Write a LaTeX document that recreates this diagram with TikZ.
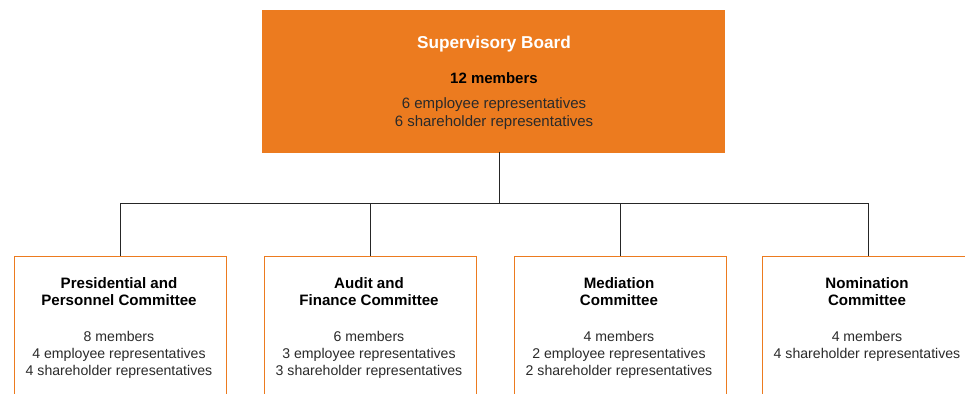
\documentclass[tikz,border=0pt]{standalone}
\usepackage{fontspec}
\setmainfont{Liberation Sans}
\definecolor{orng}{HTML}{EC7B1F}
\definecolor{txt}{HTML}{2A2A2A}
\begin{document}
\begin{tikzpicture}[x=1pt,y=-1pt,
  board/.style={fill=orng,minimum width=463pt,minimum height=143pt,anchor=north west,inner sep=0pt},
  cbox/.style={draw=orng,line width=1.3pt,fill=white,minimum width=212pt,minimum height=170pt,anchor=north west,inner sep=0pt},
  conn/.style={draw=black!85,line width=0.9pt},
  ttl/.style={anchor=base,inner sep=0pt,font=\fontsize{17.2}{20}\selectfont\bfseries,text=white},
  topb/.style={anchor=base,inner sep=0pt,font=\fontsize{15}{18}\selectfont\bfseries,text=black},
  topt/.style={anchor=base,inner sep=0pt,font=\fontsize{15}{18}\selectfont,text=txt},
  ctl/.style={anchor=base,inner sep=0pt,font=\fontsize{15.1}{17}\selectfont\bfseries,text=black},
  ctx/.style={anchor=base,inner sep=0pt,font=\fontsize{14.1}{17}\selectfont,text=txt}]
\clip (0,0) rectangle (965,393);
\fill[white] (0,0) rectangle (965,393);
% Supervisory board
\node[board] (sb) at (262,9.5) {};
\node[ttl] (sbt) at (494,49) {Supervisory Board};
\node[topb] (sbm) at (494,84) {12 members};
\node[topt] (sbe) at (494,108) {6 employee representatives};
\node[topt] (sbs) at (494,126) {6 shareholder representatives};
% committees
\node[cbox] (p1) at (13.5,255.5) {};
\node[cbox] (p2) at (263.5,255.5) {};
\node[cbox] (p3) at (513.5,255.5) {};
\node[cbox] (p4) at (761.5,255.5) {};
% connectors
\coordinate (bus) at (0,203.5);
\coordinate (sbx) at (499,152);
\draw[conn] (sbx) -- (sbx |- bus);
\draw[conn] (p1.north) |- (p4.north |- bus) -- (p4.north);
\draw[conn] (p2.north) -- (p2.north |- bus);
\draw[conn] (p3.north) -- (p3.north |- bus);
% committee texts
\node[ctl] (a1) at (119,288) {Presidential and};
\node[ctl] (a2) at (119,305) {Personnel Committee};
\node[ctx] (a3) at (119,341) {8 members};
\node[ctx] (a4) at (119,358) {4 employee representatives};
\node[ctx] (a5) at (119,375) {4 shareholder representatives};
\node[ctl] (b1) at (369,288) {Audit and};
\node[ctl] (b2) at (369,305) {Finance Committee};
\node[ctx] (b3) at (369,341) {6 members};
\node[ctx] (b4) at (369,358) {3 employee representatives};
\node[ctx] (b5) at (369,375) {3 shareholder representatives};
\node[ctl] (c1) at (619,288) {Mediation};
\node[ctl] (c2) at (619,305) {Committee};
\node[ctx] (c3) at (619,341) {4 members};
\node[ctx] (c4) at (619,358) {2 employee representatives};
\node[ctx] (c5) at (619,375) {2 shareholder representatives};
\node[ctl] (d1) at (867,288) {Nomination};
\node[ctl] (d2) at (867,305) {Committee};
\node[ctx] (d3) at (867,341) {4 members};
\node[ctx] (d4) at (867,358) {4 shareholder representatives};
\end{tikzpicture}
\end{document}
